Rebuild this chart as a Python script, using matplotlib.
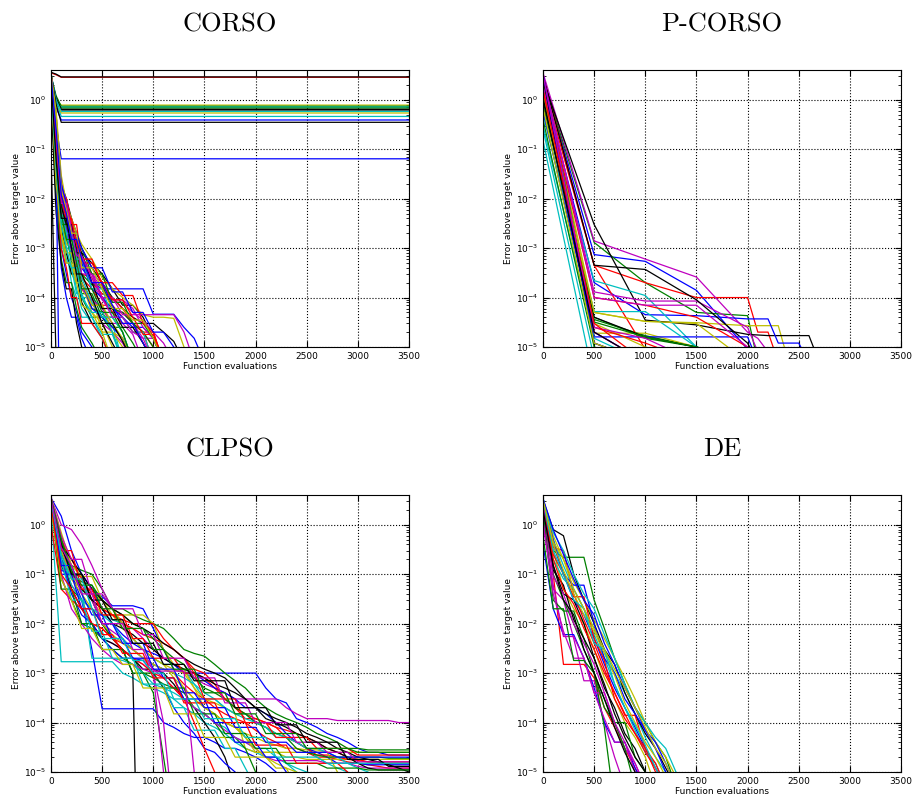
import matplotlib
matplotlib.use("Agg")
import matplotlib.pyplot as plt

# classic matplotlib colour cycle (b, g, r, c, m, y, k)
cycle = [(0, 0, 1), (0, 0.5, 0), (1, 0, 0), (0, 0.75, 0.75),
         (0.75, 0, 0.75), (0.75, 0.75, 0), (0, 0, 0)]
named = dict(zip("bgrcmyk", cycle))

titles = ["CORSO", "P-CORSO", "CLPSO", "DE"]
x_ticks = [0, 500, 1000, 1500, 2000, 2500, 3000, 3500]

# ---------------- CORSO ----------------
corso_flat_x = [0, 50, 100, 3500]
corso_flat = [
    [3.5, 3.2, 2.85, 2.85],
    [3.6, 3.3, 2.9, 2.9],
    [2.0, 1.0, 0.78, 0.78],
    [3.0, 1.2, 0.74, 0.74],
    [3.2, 0.9, 0.71, 0.71],
    [2.5, 1.0, 0.68, 0.68],
    [3.0, 1.1, 0.64, 0.64],
    [2.8, 0.9, 0.62, 0.62],
    [3.4, 1.0, 0.58, 0.58],
    [2.6, 0.8, 0.54, 0.54],
    [3.0, 0.9, 0.46, 0.46],
    [3.3, 0.7, 0.39, 0.39],
    [3.5, 0.8, 0.35, 0.35],
    [3.0, 0.3, 0.064, 0.064],
]
corso_flat_colors = "rkygcgkkcycbkb"

corso_x = [0, 50, 100, 150, 200, 250, 300, 400, 500, 600, 700, 800, 900,
           1000, 1100, 1200, 1300, 1400, 1500]
corso_runs = [
    [3.0, 0.2, 1e-2, 4e-3, 2e-3, 8e-4, 4e-4, 2e-4, 1.5e-4, 1.5e-4, 1.5e-4, 1.5e-4, 1.5e-4, 4.6e-5, 4.6e-5, 4.6e-5, 2.5e-5, 1.5e-5, 5e-6],
    [2.5, 0.02, 2e-3, 2e-3, 5e-4, 5e-4, 1e-4, 4e-5, 4e-5, 2e-5, 5e-6],
    [3.5, 0.3, 2e-2, 5e-3, 3e-3, 1e-3, 5e-4, 3e-4, 1e-4, 5e-5, 5e-5, 3e-5, 2e-5, 1e-5, 5e-6],
    [2.0, 0.05, 3e-3, 1e-3, 1e-3, 3e-4, 1e-4, 1e-4, 6e-5, 3e-5, 5e-6],
    [3.0, 0.1, 8e-3, 3e-3, 1e-3, 4e-4, 2e-4, 8e-5, 3e-5, 2e-5, 1.2e-5, 5e-6],
    [2.8, 0.08, 5e-3, 5e-3, 8e-4, 3e-4, 3e-4, 1e-4, 2e-5, 2e-5, 1.5e-5, 5e-6],
    [3.2, 0.5, 2e-2, 1e-2, 4e-3, 2e-3, 1e-3, 4e-4, 2e-4, 1e-4, 6e-5, 4e-5, 3e-5, 3e-5, 2e-5, 1.3e-5, 5e-6],
    [1.5, 0.01, 1e-3, 3e-4, 1e-4, 5e-5, 2e-5, 1e-5, 5e-6],
    [2.2, 0.04, 4e-3, 2e-3, 6e-4, 6e-4, 2e-4, 6e-5, 5e-5, 2.5e-5, 2.5e-5, 1.2e-5, 5e-6],
    [3.0, 0.15, 6e-3, 2e-3, 2e-3, 7e-4, 2.5e-4, 1.5e-4, 7e-5, 7e-5, 4e-5, 2e-5, 2e-5, 5e-6],
    [2.6, 0.03, 1.5e-3, 5e-4, 5e-4, 1.5e-4, 6e-5, 3e-5, 1.5e-5, 5e-6],
    [3.4, 0.2, 1.2e-2, 3e-3, 1.5e-3, 1e-3, 6e-4, 2e-4, 9e-5, 5e-5, 5e-5, 3e-5, 1.5e-5, 1.5e-5, 5e-6],
    [2.0, 0.06, 2e-3, 1e-3, 3e-4, 2e-4, 2e-4, 5e-5, 3e-5, 1e-5, 5e-6],
    [3.1, 0.12, 8e-3, 8e-3, 3e-3, 1.5e-3, 8e-4, 5e-4, 3e-4, 1.5e-4, 7e-5, 7e-5, 4e-5, 1.5e-5, 5e-6],
    [2.4, 0.02, 4e-4, 1e-4, 4e-5, 4e-5, 1.5e-5, 5e-6],
    [3.0, 0.09, 3e-3, 1.5e-3, 7e-4, 4e-4, 1.2e-4, 1.2e-4, 4e-5, 4e-5, 2e-5, 5e-6],
    [2.7, 0.25, 1e-2, 2e-3, 2e-3, 5e-4, 3e-4, 2.5e-4, 1e-4, 5e-5, 3e-5, 3e-5, 1.2e-5, 5e-6],
    [1.8, 0.015, 1e-3, 1e-3, 2e-4, 1e-4, 4e-5, 4e-5, 1.5e-5, 5e-6],
    [3.3, 0.4, 2.5e-2, 6e-3, 2.5e-3, 1.5e-3, 4e-4, 3e-4, 1.5e-4, 8e-5, 8e-5, 5e-5, 3.5e-5, 2e-5, 1.2e-5, 5e-6],
    [2.9, 0.07, 4e-3, 1.2e-3, 1.2e-3, 3e-4, 1.5e-4, 7e-5, 7e-5, 2e-5, 1e-5, 5e-6],
    [2.3, 0.05, 2.5e-3, 8e-4, 3e-4, 3e-4, 8e-5, 3e-5, 3e-5, 1.2e-5, 5e-6],
    [3.0, 0.18, 9e-3, 4e-3, 1e-3, 1e-3, 5e-4, 1.5e-4, 1e-4, 6e-5, 4e-5, 2.5e-5, 2.5e-5, 1.5e-5, 5e-6],
    [2.1, 0.01, 6e-4, 2e-4, 2e-4, 6e-5, 2.5e-5, 1.2e-5, 5e-6],
    [3.2, 0.3, 1.5e-2, 5e-3, 2e-3, 6e-4, 6e-4, 2e-4, 1.2e-4, 1e-4, 6e-5, 3e-5, 2e-5, 2e-5, 5e-6],
    [2.5, 0.04, 1.8e-3, 6e-4, 4e-4, 1.2e-4, 1.2e-4, 4e-5, 1.8e-5, 1.8e-5, 5e-6],
    [2.8, 0.1, 5e-3, 2.5e-3, 9e-4, 5e-4, 1.5e-4, 9e-5, 6e-5, 3e-5, 3e-5, 1.8e-5, 5e-6],
    [3.5, 0.6, 3e-2, 8e-3, 4e-3, 2e-3, 1.2e-3, 6e-4, 2.5e-4, 1.5e-4, 1e-4, 7e-5, 4.5e-5, 4e-5, 4e-5, 3.8e-5, 1e-5, 5e-6],
    [1.2, 5e-3, 5e-4, 1.5e-4, 1.5e-4, 3e-5, 1e-5, 5e-6],
    [2.6, 0.08, 3e-3, 3e-3, 1e-3, 2e-4, 2e-4, 6e-5, 4e-5, 2.5e-5, 1.5e-5, 5e-6],
    [3.0, 0.2, 7e-3, 3e-3, 1.5e-3, 8e-4, 3e-4, 1.8e-4, 1.8e-4, 6e-5, 5e-5, 3e-5, 2e-5, 1e-5, 5e-6],
    [2.2, 0.03, 1e-3, 4e-4, 1e-4, 1e-4, 3e-5, 3e-5, 1.5e-5, 5e-6],
    [2.9, 0.12, 6e-3, 2e-3, 6e-4, 6e-4, 2.5e-4, 8e-5, 4e-5, 4e-5, 2e-5, 5e-6],
    [3.3, 0.25, 1.5e-2, 1e-2, 3e-3, 1.2e-3, 7e-4, 3e-4, 2e-4, 9e-5, 9e-5, 6e-5, 2.5e-5, 1.5e-5, 5e-6],
    [2.4, 0.06, 2e-3, 8e-4, 8e-4, 2e-4, 7e-5, 5e-5, 2e-5, 5e-6],
    [0.1, 5e-6],
    [3.0, 0.05, 1e-9],
    [2.7, 0.03, 3e-3, 3e-3, 2e-3, 1e-3, 1e-3, 3e-4, 3e-4, 8e-5, 8e-5, 3e-5, 3e-5, 1.5e-5, 5e-6],
    [3.1, 0.2, 1e-2, 1e-2, 3e-3, 3e-3, 5e-4, 5e-4, 2e-4, 2e-4, 1.1e-4, 1.1e-4, 3e-5, 2e-5, 5e-6],
    [2.3, 0.05, 4e-3, 2e-3, 2e-3, 6e-4, 6e-4, 1.5e-4, 1.5e-4, 4e-5, 4e-5, 2e-5, 2e-5, 5e-6],
    [3.4, 0.15, 5e-3, 5e-3, 1.5e-3, 1.5e-3, 3e-4, 3e-4, 1e-4, 1e-4, 4.5e-5, 4.5e-5, 4.5e-5, 4.5e-5, 4.5e-5, 4.5e-5, 2e-5, 5e-6],
    [2.0, 0.02, 2e-3, 5e-4, 5e-4, 2e-4, 2e-4, 7e-5, 7e-5, 3e-5, 1.5e-5, 5e-6],
    [2.9, 0.1, 7e-3, 3e-3, 3e-3, 8e-4, 8e-4, 2e-4, 6e-5, 6e-5, 2.5e-5, 2.5e-5, 1.2e-5, 5e-6],
    [3.2, 0.3, 2e-2, 8e-3, 2e-3, 2e-3, 1e-3, 4e-4, 4e-4, 1.3e-4, 1.3e-4, 5e-5, 5e-5, 2e-5, 2e-5, 1e-5, 5e-6],
    [2.5, 0.08, 5e-3, 1.5e-3, 1.5e-3, 5e-4, 1.5e-4, 1.5e-4, 5e-5, 5e-5, 2e-5, 5e-6],
    [3.0, 0.12, 1e-2, 4e-3, 4e-3, 1.2e-3, 6e-4, 6e-4, 1.8e-4, 9e-5, 9e-5, 4e-5, 1.8e-5, 1.8e-5, 5e-6],
    [2.1, 0.04, 3e-3, 1e-3, 4e-4, 4e-4, 1e-4, 5e-5, 5e-5, 2e-5, 5e-6],
    [2.8, 0.18, 8e-3, 8e-3, 2.5e-3, 7e-4, 7e-4, 2.5e-4, 1e-4, 4e-5, 4e-5, 2e-5, 1.5e-5, 5e-6],
    [3.3, 0.4, 1.5e-2, 6e-3, 2e-3, 2e-3, 4e-4, 4e-4, 1.5e-4, 6e-5, 6e-5, 3.5e-5, 3.5e-5, 1.5e-5, 5e-6],
    [2.6, 0.06, 4e-3, 4e-3, 1e-3, 3e-4, 3e-4, 1e-4, 3e-5, 3e-5, 1.3e-5, 5e-6],
    [3.0, 0.25, 1.2e-2, 5e-3, 1.5e-3, 1.5e-3, 6e-4, 2e-4, 2e-4, 7e-5, 3e-5, 3e-5, 1.2e-5, 5e-6],
]

# ---------------- P-CORSO ----------------
pcorso_x = [0, 500, 1000, 1500, 2000, 2100, 2200, 2300, 2400, 2500, 2600, 2700]
pcorso_runs = [
    [3.0, 7.4e-4, 5.4e-4, 1.4e-4, 9e-6],
    [2.8, 1.3e-3, 2e-4, 5e-5, 4.3e-5, 5e-6],
    [3.2, 4.5e-4, 2e-4, 1e-4, 1e-4, 2e-5, 2e-5, 5e-6],
    [0.15, 2e-6],
    [3.5, 1.4e-3, 6e-4, 2.6e-4, 2e-5, 1.5e-5, 8e-6],
    [2.5, 5e-5, 3.3e-5, 3.1e-5, 2.7e-5, 2.7e-5, 2.7e-5, 2.7e-5, 5e-6],
    [2.5, 3e-3, 3.5e-5, 2.8e-5, 1.8e-5, 1.75e-5, 1.7e-5, 1.7e-5, 1.7e-5, 1.7e-5, 1.7e-5, 5e-6],
    [2.0, 2e-4, 4.5e-5, 4.3e-5, 3.7e-5, 3.7e-5, 3.7e-5, 1.2e-5, 1.2e-5, 1.2e-5, 5e-6],
    [1.5, 3.6e-5, 1.7e-5, 1e-5, 5e-6],
    [2.2, 4.5e-4, 9e-6],
    [1.0, 2.2e-4, 1.1e-4, 1e-5, 5e-6],
    [2.7, 1.3e-4, 8.5e-5, 8.5e-5, 2.5e-5, 8e-6],
    [1.8, 1.9e-5, 1.9e-5, 1e-5, 5e-6],
    [3.0, 4.5e-4, 3.7e-4, 9e-5, 1.2e-5, 5e-6],
    [1.2, 1.6e-5, 1.6e-5, 1.6e-5, 1.6e-5, 5e-6],
    [0.8, 4e-5, 1.5e-5, 1e-5, 5e-6],
    [2.0, 1e-4, 7e-5, 4e-5, 1e-5, 5e-6],
    [0.5, 5.2e-5, 5.2e-5, 1e-5, 5e-6],
    [3.0, 1e-4, 7e-5, 7e-5, 1e-5, 5e-6],
    [2.4, 3e-5, 1e-5, 5e-6],
    [1.0, 4e-5, 1.6e-5, 1e-5, 5e-6],
    [0.6, 2e-5, 5e-6],
    [2.6, 3.2e-5, 1.6e-5, 1e-5, 5e-6],
    [1.4, 2.5e-5, 1.2e-5, 5e-6],
    [0.3, 1.5e-5, 5e-6],
    [2.0, 2.5e-5, 1.5e-5, 5e-6],
    [1.2, 5e-5, 3.3e-5, 3e-5, 5e-6],
    [2.8, 1.2e-5, 5e-6],
    [3.3, 1.2e-5, 5e-6],
    [0.4, 1e-5, 5e-6],
    [1.6, 3e-5, 5e-6],
    [0.25, 6e-6],
    [3.2, 2e-5, 5e-6],
    [0.7, 1.2e-5, 5e-6],
    [1.1, 2e-5, 5e-6],
]

# ---------------- CLPSO ----------------
clpso_x = list(range(0, 3600, 100))
clpso_runs = [
    [3.5, 1.5, 0.3, 0.1, 0.05, 0.035, 0.023, 0.023, 0.023, 0.02,
     8e-3, 3e-3, 1.2e-3, 1e-3, 1e-3, 1e-3, 1e-3, 1e-3, 1e-3, 1e-3,
     1e-3, 5e-4, 3e-4, 2.5e-4, 1.2e-4, 1e-4, 8e-5, 6e-5, 5e-5, 4e-5,
     3e-5, 2.5e-5, 2.5e-5, 2.2e-5, 2.2e-5, 2.2e-5],
    [3.0, 0.5, 0.15, 0.12, 0.1, 0.05, 0.02, 0.02, 0.015, 0.012,
     0.01, 8e-3, 5e-3, 3e-3, 2.5e-3, 2.2e-3, 1.5e-3, 1e-3, 7e-4, 5e-4,
     3e-4, 2e-4, 1.5e-4, 1.2e-4, 1e-4, 8e-5, 6e-5, 5e-5, 4e-5, 3e-5,
     3e-5, 2.8e-5, 2.8e-5, 2.8e-5, 2.8e-5, 2.8e-5],
    [3.2, 0.2, 0.06, 0.03, 0.01, 8e-3, 5e-3, 4e-3, 3e-3, 2e-3,
     1.5e-3, 1.2e-3, 1e-3, 6e-4, 4e-4, 3e-4, 2e-4, 1.5e-4, 1.2e-4, 1e-4,
     7e-5, 5e-5, 4e-5, 3e-5, 3e-5, 2.5e-5, 2e-5, 2e-5, 1.8e-5, 1.6e-5,
     1.5e-5, 1.4e-5, 1.3e-5, 1.2e-5, 1.2e-5, 1.2e-5],
    [2.0, 1.7e-3, 1.7e-3, 1.7e-3, 1.7e-3, 1.7e-3, 1.7e-3, 1e-3, 8e-4, 6e-4,
     5e-4, 4e-4, 3e-4, 2e-4, 1.5e-4, 1e-4, 8e-5, 6e-5, 4e-5, 3e-5,
     2.5e-5, 2e-5, 2e-5, 1.5e-5, 1.2e-5, 1e-5, 8e-6],
    [3.5, 1.0, 0.8, 0.4, 0.15, 0.05, 0.02, 0.01, 8e-3, 5e-3,
     3e-3, 2e-3, 1.5e-3, 1e-3, 8e-4, 6e-4, 5e-4, 4e-4, 3e-4, 3e-4,
     3e-4, 3e-4, 3e-4, 2e-4, 1.5e-4, 1.2e-4, 1.2e-4, 1.2e-4, 1.1e-4, 1.1e-4,
     1.1e-4, 1.1e-4, 1.1e-4, 1.1e-4, 1e-4, 1e-4],
    [2.8, 0.3, 0.08, 0.05, 0.04, 0.03, 0.015, 8e-3, 5e-3, 3e-3,
     2e-3, 1.5e-3, 8e-4, 5e-4, 3e-4, 2e-4, 1.5e-4, 1e-4, 8e-5, 6e-5,
     5e-5, 4e-5, 3.5e-5, 3e-5, 3e-5, 2.8e-5, 2.8e-5, 2.5e-5, 2.5e-5, 2.5e-5,
     2.5e-5, 2.5e-5, 2.5e-5, 2.5e-5, 2.5e-5, 2.5e-5],
    [3.0, 0.2, 0.1, 0.09, 0.03, 0.01, 5e-3, 3e-3, 1e-3, 1e-12],
    [3.0, 0.4, 0.1, 0.03, 3e-3, 1.9e-4, 1.9e-4, 1.9e-4, 1.9e-4, 1.9e-4,
     1.9e-4, 1e-4, 8e-5, 6e-5, 5e-5, 5e-5, 4e-5, 3e-5, 3e-5, 2.5e-5,
     2e-5, 1.5e-5, 1e-5, 5e-6],
    [2.5, 0.15, 0.05, 0.03, 0.02, 0.01, 5e-3, 3e-3, 2e-3, 1e-3,
     4e-4, 2e-5, 1e-6],
    [3.3, 0.5, 0.1, 0.05, 0.03, 0.02, 0.015, 0.01, 8e-3, 6e-3,
     5e-3, 4e-3, 3e-3, 2e-3, 1e-3, 8e-4, 5e-4, 3e-4, 2e-4, 1.5e-4,
     1.2e-4, 1e-4, 8e-5, 7e-5, 6e-5, 5e-5, 4e-5, 3e-5, 2.5e-5, 2e-5,
     1.8e-5, 1.6e-5, 1.5e-5, 1.5e-5, 1.5e-5, 1.5e-5],
    [3.0, 0.3, 0.1, 0.1, 0.02, 0.015, 0.012, 0.01, 5e-3, 3e-3,
     2e-3, 1.5e-3, 1.5e-3, 1.2e-3, 6e-4, 3e-4, 3e-4, 2e-4, 1.5e-4, 1.5e-4,
     1e-4, 8e-5, 5e-5, 5e-5, 4e-5, 3e-5, 2e-5, 1.5e-5, 1.2e-5, 1e-5,
     5e-6],
    [3.0, 0.2, 0.05, 0.02, 0.01, 5e-3, 4e-3, 3e-3, 2e-3, 1.5e-3,
     1e-3, 1e-4, 1e-6],
    [3.5, 0.6, 0.1, 0.05, 0.03, 0.015, 0.015, 0.015, 0.015, 0.015,
     0.01, 3e-3, 1.5e-3, 1.2e-3, 5e-4, 3e-4, 2.5e-4, 2e-4, 1.5e-4, 3e-5,
     2.5e-5, 2.5e-5, 2.5e-5, 2e-5, 2e-5, 1.8e-5, 1.8e-5, 1.8e-5, 1.8e-5, 1.8e-5,
     1.8e-5, 1.8e-5, 1.8e-5, 1.8e-5, 1.8e-5, 1.8e-5],
    [3.2, 0.3, 0.05, 0.02, 0.01, 5e-3, 4e-3, 3e-3, 2e-3, 1.2e-3,
     1.2e-3, 1e-3, 6e-4, 3e-4, 2e-4, 1e-4, 5e-5, 2e-5, 5e-6],
    [2.8, 0.12, 0.1, 0.1, 0.05, 0.02, 0.01, 6e-3, 4e-3, 3e-3,
     2.5e-3, 2e-3, 1.5e-3, 1e-3, 1e-3, 7e-4, 5e-4, 4e-4, 3e-4, 2e-4,
     2e-4, 1.5e-4, 1e-4, 6e-5, 4e-5, 3e-5, 2.5e-5, 2e-5, 1.5e-5, 1.5e-5,
     1.5e-5, 1.4e-5, 1.4e-5, 1.4e-5, 1.4e-5, 1.4e-5],
    [3.0, 0.08, 0.03, 0.01, 8e-3, 5e-3, 3e-3, 2e-3, 1.5e-3, 1e-3,
     8e-4, 6e-4, 5e-4, 4e-4, 2e-4, 1.5e-4, 1e-4, 5e-5, 5e-5, 3e-5,
     1e-5, 5e-6],
    [3.4, 0.5, 0.2, 0.08, 0.04, 0.02, 0.015, 0.012, 0.01, 0.01,
     0.01, 5e-3, 3e-3, 2e-3, 1.2e-3, 1e-3, 6e-4, 3e-4, 2e-4, 1.2e-4,
     1.2e-4, 1e-4, 8e-5, 5e-5, 4e-5, 3e-5, 2.2e-5, 2.2e-5, 2e-5, 1.8e-5,
     1.7e-5, 1.6e-5, 1.6e-5, 1.6e-5, 1.6e-5, 1.6e-5],
    [3.3, 0.4, 0.15, 0.05, 2e-3, 2e-3, 2e-3, 1.8e-3, 1.5e-3, 1e-3,
     6e-4, 5e-4, 4e-4, 3e-4, 2e-4, 1.5e-4, 1e-4, 8e-5, 5e-5, 4e-5,
     3e-5, 3e-5, 2e-5, 1.5e-5, 1e-5, 5e-6],
    [3.0, 0.3, 0.1, 0.06, 0.03, 0.01, 7e-3, 5e-3, 3e-3, 2e-3,
     1.2e-3, 8e-4, 5e-4, 3e-4, 2e-4, 1.5e-4, 1e-4, 7e-5, 5e-5, 4e-5,
     3e-5, 2e-5, 1.7e-5, 1.7e-5, 1.7e-5, 1.7e-5, 1.7e-5, 1.5e-5, 1.5e-5, 1.5e-5,
     1.3e-5, 1.2e-5, 1.2e-5, 1.2e-5, 1.2e-5, 1.2e-5],
    [3.5, 0.7, 0.15, 0.09, 0.09, 0.03, 0.02, 0.01, 5e-3, 3e-3,
     2e-3, 1.5e-3, 1.2e-3, 1e-3, 5e-4, 2e-4, 1.5e-4, 1e-4, 8e-5, 5e-5,
     2.5e-5, 2.5e-5, 2.5e-5, 2.5e-5, 2.5e-5, 2.5e-5, 2.5e-5, 2.5e-5, 1e-5, 5e-6],
    [3.0, 0.35, 0.12, 0.05, 0.03, 0.02, 0.01, 8e-3, 6e-3, 4e-3,
     3e-3, 2e-3, 1.5e-3, 1.2e-3, 1e-3, 8e-4, 6e-4, 5e-4, 4e-4, 3e-4,
     2e-4, 1.2e-4, 1e-4, 8e-5, 6e-5, 5e-5, 4e-5, 3e-5, 2.5e-5, 2e-5,
     1.5e-5, 1.2e-5, 1.1e-5, 1.1e-5, 1.1e-5, 1.1e-5],
    [2.6, 0.2, 0.04, 0.015, 0.01, 5e-3, 3e-3, 2e-3, 2e-3, 1.8e-3,
     1e-3, 5e-4, 2e-4, 1e-4, 6e-5, 3e-5, 2.5e-5, 1.5e-5, 1e-5, 5e-6],
    [3.2, 0.5, 0.1, 0.07, 0.06, 0.03, 0.02, 0.015, 0.01, 8e-3,
     5e-3, 3e-3, 2e-3, 1.5e-3, 8e-4, 5e-4, 4e-4, 3e-4, 2e-4, 1.5e-4,
     1e-4, 8e-5, 6e-5, 5e-5, 3e-5, 2.5e-5, 2.2e-5, 2e-5, 2e-5, 2e-5,
     2e-5, 2e-5, 2e-5, 1.9e-5, 1.9e-5, 1.9e-5],
    [1.0, 0.05, 0.03, 0.02, 0.01, 8e-3, 5e-3, 3e-3, 2e-3, 1.5e-3,
     1e-3, 8e-4, 5e-4, 3e-4, 1e-4, 3e-5, 1e-5, 5e-6],
    [3.0, 0.25, 0.06, 0.03, 0.02, 0.015, 0.01, 5e-3, 3e-3, 2e-3,
     1.5e-3, 1.2e-3, 1e-3, 8e-4, 6e-4, 4e-4, 3e-4, 2e-4, 1.5e-4, 1.2e-4,
     1e-4, 8e-5, 6e-5, 5e-5, 4e-5, 3e-5, 3e-5, 2.5e-5, 2e-5, 1.5e-5,
     1.2e-5, 1e-5, 5e-6],
    [2.5, 0.1, 0.02, 0.01, 5e-3, 3e-3, 2e-3, 1.5e-3, 1.5e-3, 1.2e-3,
     1e-3, 1e-5, 1e-7],
    [3.1, 0.3, 0.08, 0.04, 0.02, 0.01, 6e-3, 4e-3, 3e-3, 2e-3,
     1.5e-3, 1.2e-3, 1e-3, 5e-4, 3e-4, 2e-4, 1.5e-4, 1e-4, 8e-5, 5e-5,
     3e-5, 2e-5, 1.5e-5, 1.2e-5, 1e-5, 8e-6],
    [3.4, 0.4, 0.2, 0.1, 0.05, 0.03, 0.02, 0.015, 0.01, 8e-3,
     6e-3, 4e-3, 3e-3, 2e-3, 1.5e-3, 1.2e-3, 1e-3, 8e-4, 5e-4, 3e-4,
     2e-4, 1.5e-4, 1.2e-4, 1e-4, 8e-5, 6e-5, 5e-5, 4e-5, 3e-5, 2.5e-5,
     2e-5, 1.8e-5, 1.6e-5, 1.4e-5, 1.2e-5, 1e-5],
    [3.0, 0.1, 0.1, 0.02, 0.02, 0.01, 0.01, 4e-3, 4e-3, 4e-3,
     1.2e-3, 1.2e-3, 1.2e-3, 4e-4, 4e-4, 2e-4, 2e-4, 2e-4, 8e-5, 8e-5,
     8e-5, 4e-5, 4e-5, 4e-5, 2.5e-5, 2.5e-5, 2.5e-5, 2.5e-5, 2e-5, 2e-5,
     2e-5, 2e-5, 2e-5, 2e-5, 2e-5, 2e-5],
    [2.5, 0.05, 0.05, 0.01, 0.01, 3e-3, 3e-3, 3e-3, 1e-3, 1e-3,
     1e-3, 5e-4, 5e-4, 5e-4, 1.5e-4, 1.5e-4, 1.5e-4, 6e-5, 6e-5, 6e-5,
     3e-5, 3e-5, 3e-5, 1.5e-5, 1.5e-5, 1.5e-5, 1.5e-5, 1.2e-5, 1.2e-5, 1.2e-5,
     1.2e-5, 1.1e-5, 1.1e-5, 1.1e-5, 1.1e-5, 1.1e-5],
    [3.3, 0.3, 0.3, 0.05, 0.05, 0.015, 0.015, 0.015, 5e-3, 5e-3,
     2e-3, 2e-3, 2e-3, 1e-3, 1e-3, 3e-4, 3e-4, 3e-4, 3e-4, 1e-4,
     1e-4, 1e-4, 5e-5, 5e-5, 5e-5, 5e-5, 3e-5, 3e-5, 3e-5, 3e-5,
     2.2e-5, 2.2e-5, 2.2e-5, 2.2e-5, 2.2e-5, 2.2e-5],
    [2.8, 0.2, 0.03, 0.03, 7e-3, 7e-3, 2e-3, 2e-3, 2e-3, 6e-4,
     6e-4, 6e-4, 2e-4, 2e-4, 7e-5, 7e-5, 7e-5, 3e-5, 3e-5, 1.2e-5,
     5e-6],
    [3.5, 0.6, 0.2, 0.2, 0.04, 0.04, 0.02, 0.02, 0.02, 6e-3,
     6e-3, 2e-3, 2e-3, 2e-3, 8e-4, 8e-4, 8e-4, 2.5e-4, 2.5e-4, 2.5e-4,
     1e-4, 1e-4, 1e-4, 1e-4, 4e-5, 4e-5, 4e-5, 2.5e-5, 2.5e-5, 2.5e-5,
     1.6e-5, 1.6e-5, 1.6e-5, 1.6e-5, 1.6e-5, 1.6e-5],
    [2.2, 0.08, 0.03, 8e-3, 8e-3, 3e-3, 3e-3, 1.5e-3, 1.5e-3, 5e-4,
     5e-4, 5e-4, 1.5e-4, 1.5e-4, 1.5e-4, 5e-5, 5e-5, 5e-5, 2e-5, 2e-5,
     2e-5, 2e-5, 1.2e-5, 1.2e-5, 5e-6],
    [3.1, 0.4, 0.1, 0.1, 0.03, 0.03, 0.012, 0.012, 4e-3, 4e-3,
     4e-3, 1.5e-3, 1.5e-3, 1.5e-3, 7e-4, 7e-4, 7e-4, 7e-4, 2e-4, 2e-4,
     2e-4, 2e-4, 9e-5, 9e-5, 9e-5, 4e-5, 4e-5, 4e-5, 4e-5, 1.8e-5,
     1.8e-5, 1.8e-5, 1.8e-5, 1.3e-5, 1.3e-5, 1.3e-5],
    [2.9, 0.15, 0.15, 0.04, 0.015, 0.015, 5e-3, 5e-3, 2e-3, 2e-3,
     2e-3, 8e-4, 8e-4, 3e-4, 3e-4, 3e-4, 1e-4, 1e-4, 4e-5, 4e-5,
     4e-5, 2e-5, 2e-5, 1e-5, 5e-6],
    [3.4, 0.5, 0.12, 0.06, 0.06, 0.02, 0.02, 8e-3, 8e-3, 8e-3,
     3e-3, 3e-3, 1.2e-3, 1.2e-3, 1.2e-3, 4e-4, 4e-4, 4e-4, 1.5e-4, 1.5e-4,
     1.5e-4, 6e-5, 6e-5, 6e-5, 6e-5, 3e-5, 3e-5, 3e-5, 3e-5, 3e-5,
     2.5e-5, 2.5e-5, 2.5e-5, 2.5e-5, 2.5e-5, 2.5e-5],
    [2.6, 0.1, 0.05, 0.02, 0.02, 6e-3, 6e-3, 2.5e-3, 2.5e-3, 2.5e-3,
     8e-4, 8e-4, 8e-4, 2.5e-4, 2.5e-4, 2.5e-4, 2.5e-4, 1e-4, 1e-4, 1e-4,
     3.5e-5, 3.5e-5, 3.5e-5, 3.5e-5, 1.5e-5, 1.5e-5, 1.5e-5, 1.5e-5, 1.5e-5, 1e-5,
     5e-6],
    [3.0, 0.25, 0.08, 0.08, 0.02, 5e-3, 5e-3, 5e-3, 1.8e-3, 1.8e-3,
     1e-3, 1e-3, 3e-4, 3e-4, 3e-4, 1.2e-4, 1.2e-4, 1.2e-4, 1.2e-4, 5e-5,
     5e-5, 5e-5, 2e-5, 2e-5, 2e-5, 2e-5, 2e-5, 1.5e-5, 1.5e-5, 1.5e-5,
     1.5e-5, 1.5e-5, 1.5e-5, 1.5e-5, 1.5e-5, 1.5e-5],
    [3.2, 0.35, 0.15, 0.04, 0.04, 0.01, 0.01, 0.01, 3e-3, 3e-3,
     1.1e-3, 1.1e-3, 1.1e-3, 1.1e-3, 1e-5, 1e-7],
]

# ---------------- DE ----------------
de_x = list(range(0, 1500, 100))
de_runs = [
    [3.0, 0.4, 0.1, 0.03, 0.015, 5e-3, 1.5e-3, 5e-4, 2e-4, 8e-5, 3e-5, 1.2e-5, 5e-6],
    [2.5, 0.3, 0.22, 0.22, 0.22, 0.03, 8e-3, 2e-3, 6e-4, 2e-4, 1e-4, 4e-5, 2e-5, 5e-6],
    [2.0, 0.1, 1.5e-3, 1.5e-3, 1.5e-3, 8e-4, 2e-4, 8e-5, 3e-5, 1.2e-5, 5e-6],
    [3.5, 0.5, 0.15, 0.05, 0.02, 8e-3, 3e-3, 1e-3, 4e-4, 1.5e-4, 5e-5, 2e-5, 1e-5, 5e-6],
    [1.0, 0.05, 0.03, 5e-3, 7e-4, 7e-4, 1e-4, 2e-5, 5e-6],
    [2.8, 0.3, 0.05, 0.02, 0.01, 3e-3, 8e-4, 3e-4, 1e-4, 5e-5, 2e-5, 5e-6],
    [3.2, 0.8, 0.6, 0.1, 0.03, 0.01, 3e-3, 1.5e-3, 4e-4, 1.5e-4, 6e-5, 3e-5, 1.2e-5, 5e-6],
    [0.4, 0.02, 6e-3, 6e-3, 2e-3, 5e-4, 1e-4, 4e-5, 4e-5, 1.2e-5, 5e-6],
    [2.2, 0.1, 0.03, 0.01, 3e-3, 1e-3, 8e-5, 2e-6],
    [3.0, 0.35, 0.3, 0.04, 0.012, 4e-3, 1.2e-3, 4e-4, 1.4e-4, 1.4e-4, 3e-5, 1e-5, 5e-6],
    [2.6, 0.2, 0.08, 0.05, 0.02, 6e-3, 2e-3, 6e-4, 2e-4, 7e-5, 2.5e-5, 1.5e-5, 5e-6],
    [1.5, 0.06, 5.5e-3, 5.5e-3, 2e-3, 4e-4, 4e-4, 1e-4, 3e-5, 1.5e-5, 5e-6],
    [3.3, 0.6, 0.2, 0.07, 0.03, 0.012, 5e-3, 2e-3, 8e-4, 3e-4, 1e-4, 4e-5, 2e-5, 8e-6],
    [2.4, 0.15, 0.04, 0.03, 0.01, 2e-3, 5e-4, 2e-4, 6e-5, 3e-5, 1e-5, 5e-6],
    [3.0, 0.5, 0.1, 0.06, 0.06, 0.01, 2e-3, 1e-3, 3e-4, 1.5e-4, 7e-5, 3e-5, 1e-5, 5e-6],
    [2.0, 0.03, 0.018, 0.018, 5e-3, 1e-3, 2e-4, 1e-4, 1e-4, 2e-5, 1e-5, 5e-6],
    [2.7, 0.25, 0.1, 0.035, 0.035, 5e-3, 1.8e-3, 3e-4, 1.2e-4, 6e-5, 2.5e-5, 1.2e-5, 5e-6],
    [3.1, 0.7, 0.3, 0.1, 0.04, 0.02, 6e-3, 2e-3, 6e-4, 2e-4, 1e-4, 5e-5, 3e-5, 1e-5, 5e-6],
    [1.2, 0.04, 7e-3, 2e-3, 2e-3, 4e-4, 1.2e-4, 4e-5, 4e-5, 1e-5, 5e-6],
    [2.9, 0.4, 0.12, 0.04, 0.015, 7e-3, 2.5e-3, 9e-4, 2.5e-4, 1e-4, 4e-5, 2e-5, 8e-6],
    [2.3, 0.12, 0.06, 0.012, 5e-3, 2e-3, 6e-4, 1.5e-4, 5e-5, 2e-5, 1e-5, 5e-6],
    [3.4, 0.8, 0.25, 0.08, 0.03, 0.015, 4e-3, 1.5e-3, 5e-4, 2e-4, 7e-5, 4e-5, 1.5e-5, 5e-6],
    [0.6, 0.02, 0.02, 1.8e-3, 1.8e-3, 1e-3, 3e-4, 1e-4, 3e-5, 5e-6],
    [2.8, 0.2, 0.05, 0.025, 8e-3, 3e-3, 1e-3, 4e-4, 1.5e-4, 6e-5, 3e-5, 1.5e-5, 5e-6],
    [3.0, 0.3, 0.1, 0.03, 0.02, 4e-3, 3e-3, 6e-4, 2e-4, 9e-5, 3.5e-5, 1.2e-5, 5e-6],
    [2.5, 0.09, 0.04, 0.01, 4e-3, 1.5e-3, 4e-4, 1e-4, 4e-5, 1.5e-5, 5e-6],
    [3.2, 0.45, 0.2, 0.05, 0.02, 8e-3, 3e-3, 1.2e-3, 5e-4, 2e-4, 8e-5, 3e-5, 1.5e-5, 5e-6],
    [2.0, 0.15, 0.03, 0.015, 3e-3, 1e-3, 3e-4, 8e-5, 2.5e-5, 1e-5, 5e-6],
]

W, H = 915, 802
fig = plt.figure(figsize=(W / 100, H / 100), dpi=100)

boxes = [(51, 70), (543, 70), (51, 495), (543, 495)]
axes = []
for (px, py), title in zip(boxes, titles):
    ax = fig.add_axes([px / W, 1 - (py + 277) / H, 358 / W, 277 / H])
    ax.set_yscale('log')
    ax.set_xlim(0, 3500)
    ax.set_ylim(1e-5, 4)
    ax.set_xticks(x_ticks)
    ax.grid(True, which='major', linestyle=':', color='k', linewidth=0.8)
    ax.tick_params(which='both', direction='in', top=True, right=True, labelsize=6.5)
    ax.tick_params(which='major', length=4)
    ax.tick_params(which='minor', length=2)
    ax.set_xlabel('Function evaluations', fontsize=6.5, labelpad=1)
    ax.set_ylabel('Error above target value', fontsize=6.5, labelpad=2)
    ax.set_title(title, fontsize=19, family='cmr10', pad=28)
    axes.append(ax)

for y, c in zip(corso_flat, corso_flat_colors):
    axes[0].plot(corso_flat_x, y, color=named[c], lw=0.9)

for ax, xs, runs in [(axes[0], corso_x, corso_runs), (axes[1], pcorso_x, pcorso_runs),
                     (axes[2], clpso_x, clpso_runs), (axes[3], de_x, de_runs)]:
    for i, y in enumerate(runs):
        ax.plot(xs[:len(y)], y, color=cycle[i % 7], lw=0.9)

fig.savefig('out.png', dpi=100)
